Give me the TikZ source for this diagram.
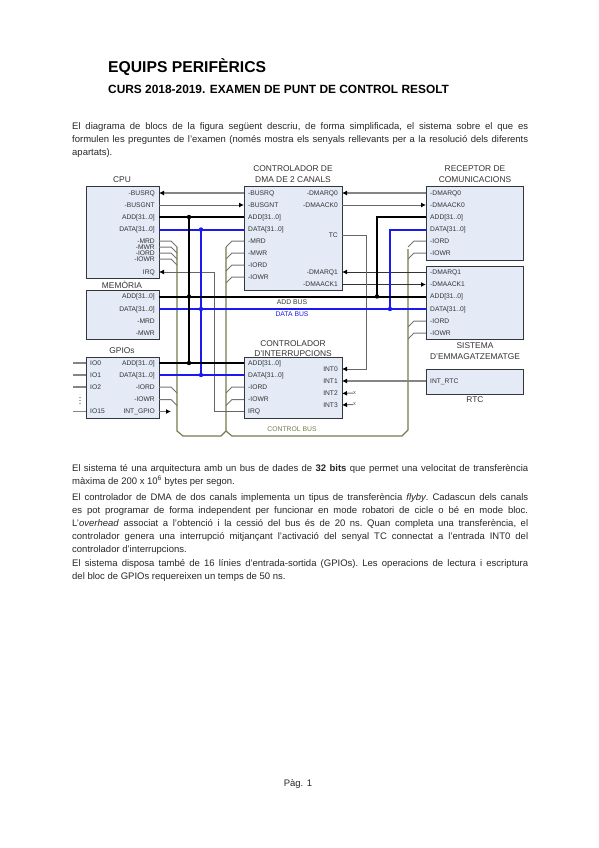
\documentclass[tikz,border=0pt]{standalone}
\usepackage{fontspec}
\setmainfont{Liberation Sans}
\usepackage{xcolor}
\definecolor{cBox}{HTML}{E4EAF6}
\definecolor{cEdge}{HTML}{33373C}
\definecolor{cCtl}{HTML}{6F7D4A}
\definecolor{cSig}{HTML}{858585}
\definecolor{cBlue}{HTML}{1A1AF0}
\definecolor{cTxt}{HTML}{333333}
\tikzset{
  blk/.style={draw=cEdge, fill=cBox, line width=1.25pt, rectangle, inner sep=0pt, anchor=north west},
  pinL/.style={anchor=west, inner xsep=4pt, inner ysep=0pt, text=cTxt, font=\fontsize{6.7}{7}\selectfont, text height=4.6pt, text depth=0.6pt},
  pinR/.style={anchor=east, inner xsep=4pt, inner ysep=0pt, text=cTxt, font=\fontsize{6.7}{7}\selectfont, text height=4.6pt, text depth=0.6pt},
  ttl/.style={align=center, inner sep=0pt, text=cTxt, font=\fontsize{8.4}{10.6}\selectfont},
  busA/.style={line width=2pt, black},
  busD/.style={line width=2pt, cBlue},
  sig/.style={line width=1.2pt, cSig},
  sigt/.style={line width=1pt, black!60},
  sigd/.style={line width=1pt, black!80},
  ctl/.style={line width=1.2pt, cCtl},
  stub/.style={line width=1pt, black!55},
  dotj/.style={circle, fill=#1, inner sep=0pt, minimum size=4.4pt},
  para/.style={anchor=north west, inner sep=0pt, text width=456pt, align=justify, text=black!85, font=\fontsize{9.5}{12.9}\selectfont\frenchspacing},
  tipL/.style={-{Latex[length=5pt,width=5pt,black]}},
}
\usetikzlibrary{arrows.meta}
\newcommand{\lpin}[3]{\node[pinL] (#1) at (#2) {#3};}
\newcommand{\rpin}[3]{\node[pinR] (#1) at (#2) {#3};}
\newcommand{\blkbox}[5]{\node[blk, minimum width=#4pt, minimum height=#5pt] (#1) at (#2,#3) {};}
\begin{document}
\begin{tikzpicture}[x=1pt,y=-1pt]
\useasboundingbox (0,0) rectangle (599,848);
% heading and text
\node[anchor=base west, inner sep=0pt, font=\fontsize{15.7}{18}\bfseries\selectfont] (head) at (108,72.5) {EQUIPS PERIFÈRICS};
\node[anchor=base west, inner sep=0pt, font=\fontsize{11.9}{13}\bfseries\selectfont] (sub) at (108,94) {CURS 2018-2019. EXAMEN DE PUNT DE CONTROL RESOLT};
\node[para] (p1) at (72,122.5) {El diagrama de blocs de la figura següent descriu, de forma simplificada, el sistema sobre el que es\linebreak formulen les preguntes de l’examen (només mostra els senyals rellevants per a la resolució dels diferents\linebreak apartats).};
\node[para] (p2) at (72,464) {El sistema té una arquitectura amb un bus de dades de \textbf{32 bits} que permet una velocitat de transferència\linebreak màxima de 200 x 10\textsuperscript{6} bytes per segon.};
\node[para] (p3) at (72,493.5) {El controlador de DMA de dos canals implementa un tipus de transferència \textit{flyby}. Cadascun dels canals\linebreak es pot programar de forma independent per funcionar en mode robatori de cicle o bé en mode bloc.\linebreak L’\textit{overhead} associat a l’obtenció i la cessió del bus és de 20 ns. Quan completa una transferència, el\linebreak controlador genera una interrupció mitjançant l’activació del senyal TC connectat a l’entrada INT0 del\linebreak controlador d’interrupcions.};
\node[para] (p4) at (72,559.5) {El sistema disposa també de 16 línies d’entrada-sortida (GPIOs). Les operacions de lectura i escriptura\linebreak del bloc de GPIOs requereixen un temps de 50 ns.};
\node[inner sep=0pt, text=black!85, font=\fontsize{9.5}{11}\selectfont] (pag) at (298,784) {Pàg. 1};
% titles first, the boxes cover them
\node[ttl] (tCPU) at (122,180) {CPU};
\node[ttl] (tMEM) at (122,284.5) {MEMÒRIA};
\node[ttl] (tGPIO) at (122,351) {GPIOs};
\node[ttl] (tDMA) at (293,174) {CONTROLADOR DE\\DMA DE 2 CANALS};
\node[ttl] (tREC) at (475,174) {RECEPTOR DE\\COMUNICACIONS};
\node[ttl] (tSIS) at (475,351) {SISTEMA\\D’EMMAGATZEMATGE};
\node[ttl] (tINT) at (293,348.5) {CONTROLADOR\\D’INTERRUPCIONS};
\node[ttl] (tRTC) at (475,400) {RTC};
% boxes
\blkbox{cpu}{86}{186}{73}{92}
\blkbox{mem}{86}{290}{73}{49}
\blkbox{gpio}{86}{357}{73}{61}
\blkbox{dma}{244}{186}{98}{104}
\blkbox{intc}{244}{357}{98}{61}
\blkbox{rec}{426}{186}{97}{74}
\blkbox{sis}{426}{266}{97}{73}
\blkbox{rtc}{426}{369}{97}{25}
% pins
\rpin{cBUSRQ}{159,193}{-BUSRQ}
\rpin{cBUSGNT}{159,205}{-BUSGNT}
\rpin{cADD}{159,217}{ADD[31..0]}
\rpin{cDATA}{159,229.5}{DATA[31..0]}
\rpin{cMRD}{159,241}{-MRD}
\rpin{cMWR}{159,247}{-MWR}
\rpin{cIORD}{159,253}{-IORD}
\rpin{cIOWR}{159,259}{-IOWR}
\rpin{cIRQ}{159,272}{IRQ}
\rpin{mADD}{159,296.5}{ADD[31..0]}
\rpin{mDATA}{159,309}{DATA[31..0]}
\rpin{mMRD}{159,321}{-MRD}
\rpin{mMWR}{159,333}{-MWR}
\rpin{gADD}{159,363}{ADD[31..0]}
\rpin{gDATA}{159,375}{DATA[31..0]}
\rpin{gIORD}{159,387}{-IORD}
\rpin{gIOWR}{159,399.5}{-IOWR}
\rpin{gINT}{159,411.5}{INT\_GPIO}
\lpin{gIO0}{86,363}{IO0}
\lpin{gIO1}{86,375}{IO1}
\lpin{gIO2}{86,387}{IO2}
\lpin{gIO15}{86,411.5}{IO15}
\lpin{dBUSRQ}{244,193}{-BUSRQ}
\lpin{dBUSGNT}{244,205}{-BUSGNT}
\lpin{dADD}{244,217}{ADD[31..0]}
\lpin{dDATA}{244,229.5}{DATA[31..0]}
\lpin{dMRD}{244,241}{-MRD}
\lpin{dMWR}{244,253}{-MWR}
\lpin{dIORD}{244,265}{-IORD}
\lpin{dIOWR}{244,277}{-IOWR}
\rpin{dRQ0}{342,193}{-DMARQ0}
\rpin{dACK0}{342,205}{-DMAACK0}
\rpin{dTC}{342,235}{TC}
\rpin{dRQ1}{342,272}{-DMARQ1}
\rpin{dACK1}{342,284.5}{-DMAACK1}
\lpin{iADD}{244,363}{ADD[31..0]}
\lpin{iDATA}{244,375}{DATA[31..0]}
\lpin{iIORD}{244,387}{-IORD}
\lpin{iIOWR}{244,399.5}{-IOWR}
\lpin{iIRQ}{244,411.5}{IRQ}
\rpin{iINT0}{342,369}{INT0}
\rpin{iINT1}{342,381}{INT1}
\rpin{iINT2}{342,393.5}{INT2}
\rpin{iINT3}{342,405}{INT3}
\lpin{rRQ0}{426,193}{-DMARQ0}
\lpin{rACK0}{426,205}{-DMAACK0}
\lpin{rADD}{426,217}{ADD[31..0]}
\lpin{rDATA}{426,229.5}{DATA[31..0]}
\lpin{rIORD}{426,241}{-IORD}
\lpin{rIOWR}{426,253}{-IOWR}
\lpin{sRQ1}{426,272}{-DMARQ1}
\lpin{sACK1}{426,284.5}{-DMAACK1}
\lpin{sADD}{426,296.5}{ADD[31..0]}
\lpin{sDATA}{426,309}{DATA[31..0]}
\lpin{sIORD}{426,321}{-IORD}
\lpin{sIOWR}{426,333}{-IOWR}
\lpin{tINTR}{426,381}{INT\_RTC}
% control bus
\coordinate (cbA) at (177,247);
\coordinate (cbB) at (177,431);
\coordinate (cbC) at (183,436);
\coordinate (cbD) at (221,436);
\coordinate (cbE) at (226,431);
\coordinate (cbF) at (226,247);
\coordinate (cbG) at (232,436);
\coordinate (cbH) at (402,436);
\coordinate (cbI) at (408,430);
\coordinate (cbJ) at (408,249);
\draw[ctl] (cbA) -- (cbB) -- (cbC) -- (cbD) -- (cbE) -- (cbF);
\draw[ctl] (cbE) -- (cbG) -- (cbH) -- (cbI) -- (cbJ);
% stubs to the control bus
\foreach \pn/\yy in {cMRD/241,cMWR/247,cIORD/253,cIOWR/259,gIORD/387,gIOWR/399.5}
  \draw[stub] (\pn.east) -- (171,\yy) -- (177,\yy+6);
\foreach \pn/\yy in {dMRD/241,dMWR/253,dIORD/265,dIOWR/277,iIORD/387,iIOWR/399.5}
  \draw[stub] (\pn.west) -- (232,\yy) -- (226,\yy+6);
\foreach \pn/\yy in {rIORD/241,rIOWR/253,sIORD/321,sIOWR/333}
  \draw[stub] (\pn.west) -- (414,\yy) -- (408,\yy+6);
% single signals
\draw[sig, tipL] (dBUSRQ.west) -- (cBUSRQ.east);
\draw[sigt, tipL] (cBUSGNT.east) -- (dBUSGNT.west);
\draw[sig, tipL] (rRQ0.west) -- (dRQ0.east);
\draw[sigt, tipL] (dACK0.east) -- (rACK0.west);
\draw[sigd, tipL] (sRQ1.west) -- (dRQ1.east);
\draw[sigd, tipL] (dACK1.east) -- (sACK1.west);
\draw[sigt, tipL] (iIRQ.west) -- (214,411.5) -- (214,272) -- (cIRQ.east);
\draw[sigt, tipL] (dTC.east) -- (366,235) -- (366,369) -- (iINT0.east);
\draw[sig, tipL] (tINTR.west) -- (iINT1.east);
\node[inner sep=0pt, font=\fontsize{5.5}{5.5}\selectfont, text=black!70] (x2) at (354.5,393) {x};
\node[inner sep=0pt, font=\fontsize{5.5}{5.5}\selectfont, text=black!70] (x3) at (354.5,404.5) {x};
\draw[stub, tipL] (x2.west) -- (iINT2.east);
\draw[stub, tipL] (x3.west) -- (iINT3.east);
\coordinate (gp) at (171,411.5);
\draw[stub, tipL] (gINT.east) -- (gp);
\foreach \pn/\yy in {gIO0/363,gIO1/375,gIO2/387,gIO15/411.5}
  \draw[sig] (73,\yy) -- (\pn.west);
\foreach \yy in {397.5,400.5,403.5}
  \fill[black!70] (80,\yy) circle[radius=0.7pt];
% data and address
\draw[busD] (cDATA.east) -- (dDATA.west);
\draw[busD] (gDATA.east) -- (iDATA.west);
\draw[busD] (mDATA.east) -- (sDATA.west);
\draw[busD] (201,229.5) -- (201,375);
\draw[busD] (rDATA.west) -- (390,229.5) -- (390,309);
\draw[busA] (cADD.east) -- (dADD.west);
\draw[busA] (gADD.east) -- (iADD.west);
\draw[busA] (mADD.east) -- (sADD.west);
\draw[busA] (189,217) -- (189,363);
\draw[busA] (rADD.west) -- (377,217) -- (377,296.5);
\foreach \xx/\yy in {189/217,189/296.5,189/363,377/296.5}
  \node[dotj=black] at (\xx,\yy) {};
\foreach \xx/\yy in {201/229.5,201/309,201/375,390/309}
  \node[dotj=cBlue] at (\xx,\yy) {};
% bus names
\node[inner sep=0pt, text=cTxt, font=\fontsize{6.8}{7}\selectfont] (lADD) at (292,302.5) {ADD BUS};
\node[inner sep=0pt, text=cBlue, font=\fontsize{6.8}{7}\selectfont] (lDATA) at (292,314.5) {DATA BUS};
\node[inner sep=0pt, text=cCtl, font=\fontsize{6.8}{7}\selectfont] (lCTL) at (292,429) {CONTROL BUS};
\end{tikzpicture}
\end{document}
